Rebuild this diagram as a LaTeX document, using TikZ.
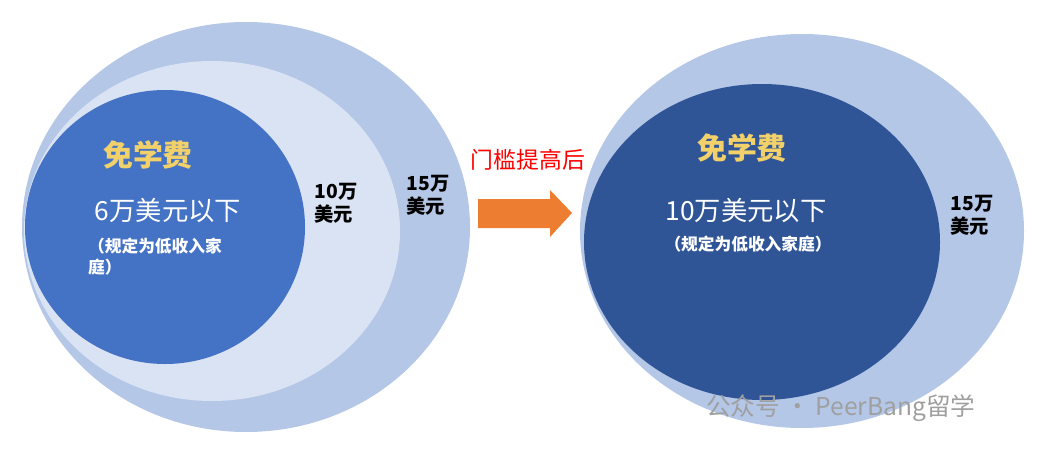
\documentclass[tikz,border=0pt]{standalone}
\usepackage{fontspec}
\setmainfont{Noto Sans CJK SC}
\definecolor{ringout}{HTML}{B4C7E7}
\definecolor{ringmid}{HTML}{DAE3F3}
\definecolor{coreblue}{HTML}{4472C4}
\definecolor{coredark}{HTML}{2F5597}
\definecolor{goldtxt}{HTML}{F2D16B}
\definecolor{arroworange}{HTML}{ED7D31}
\tikzset{
  gold/.style={text=goldtxt, font=\bfseries\fontsize{17}{19}\selectfont},
  big/.style={text=white, font=\fontsize{15}{17}\selectfont},
  small/.style={text=white, font=\bfseries\fontsize{9.5}{12}\selectfont, align=left},
  ring/.style={text=black, font=\bfseries\fontsize{11}{13}\selectfont, align=left}
}
\begin{document}
\begin{tikzpicture}[x=0.02cm, y=-0.02cm]
\useasboundingbox (0,0) rectangle (1050,453);

	%% Before
	\fill[ringout] (246,227) ellipse [x radius=224, y radius=205];
	\fill[ringmid] (212,231) ellipse [x radius=188, y radius=170];
	\fill[coreblue] (165,227) ellipse [x radius=140, y radius=137];
	\node[gold] (free_l) at (148,155) {免学费};
	\node[big] (six) at (168,211) {6万美元以下};
	\node[small, anchor=north west] (low_l) at (82,232) {（规定为低收入家\\庭）};
	\node[ring] (ten_l) at (336,203) {10万\\美元};
	\node[ring] (fif_l) at (428,195) {15万\\美元};

	%% Arrow
	\coordinate (arr_a) at (478,213);
	\fill[arroworange] (478,199) -- (550,199) -- (550,190) -- (572,213)
		-- (550,237) -- (550,228) -- (478,228) -- cycle;
	\node[text=red, font=\fontsize{13}{15}\selectfont] (lbl) at (528,160) {门槛提高后};

	%% After
	\fill[ringout] (802,231) ellipse [x radius=222, y radius=197];
	\fill[coredark] (762,242) ellipse [x radius=178, y radius=158];
	\node[gold] (free_r) at (742,148) {免学费};
	\node[big] (ten) at (746,211) {10万美元以下};
	\node[small] (low_r) at (748,244) {（规定为低收入家庭）};
	\node[ring] (fif_r) at (972,215) {15万\\美元};

	%% Watermark
	\node[text=gray!75, font=\fontsize{14}{16}\selectfont, anchor=west] (mark) at (700,408) {公众号 · PeerBang留学};
\end{tikzpicture}
\end{document}
